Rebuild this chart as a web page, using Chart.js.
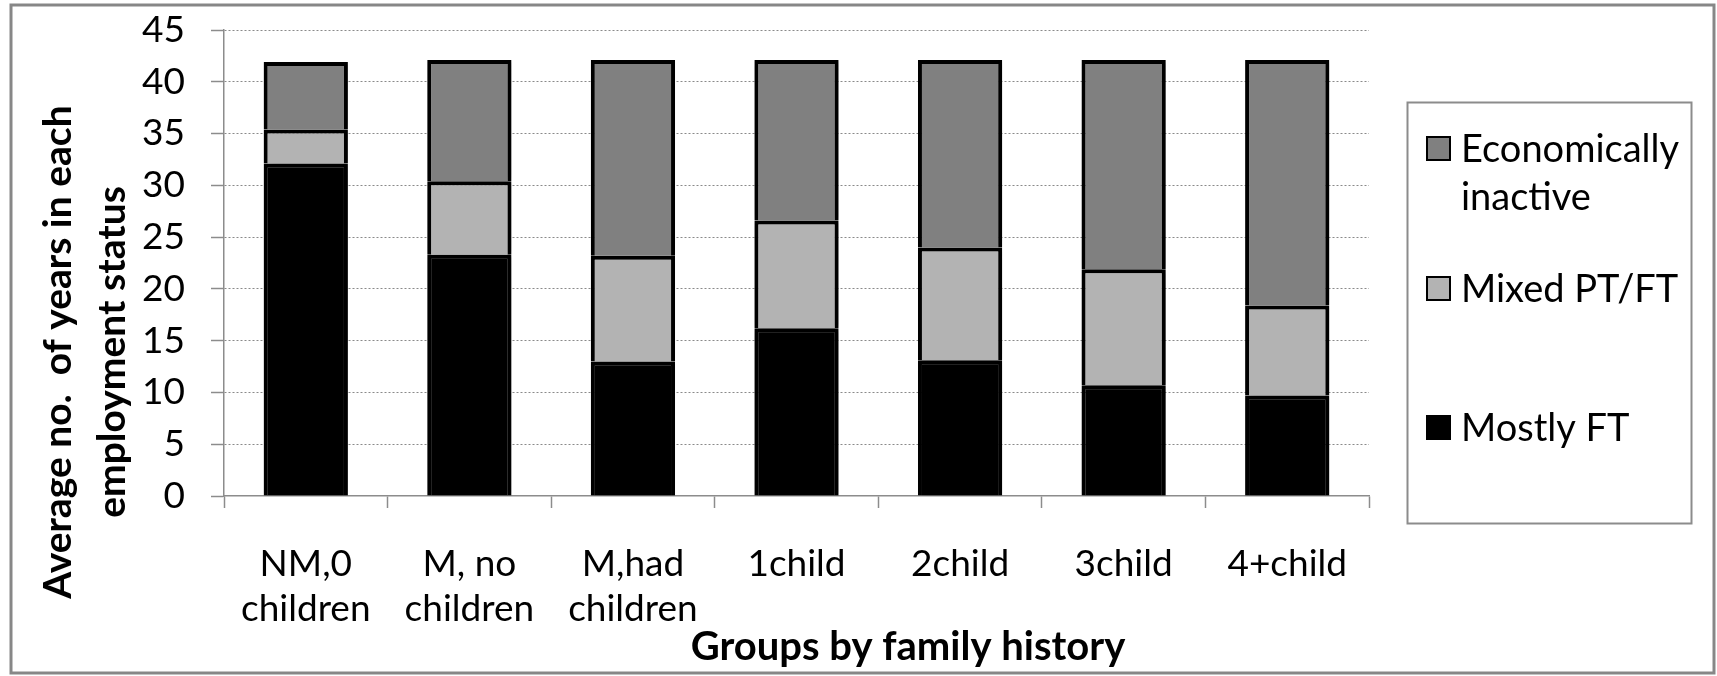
<!DOCTYPE html>
<html>
<head>
<meta charset="utf-8">
<script src="https://cdn.jsdelivr.net/npm/chart.js@4.4.0/dist/chart.umd.min.js"></script>
<style>
  html, body { margin: 0; padding: 0; background: #ffffff; }
  #wrap { width: 1717px; height: 676px; }
</style>
</head>
<body>
<div id="wrap"><canvas id="chart" width="1717" height="676"></canvas></div>
<script>
// ---- data ----
const categories = [
  ["NM,0", "children"],
  ["M, no", "children"],
  ["M,had", "children"],
  "1child", "2child", "3child", "4+child"
];
const mostlyFT   = [32.1, 23.3, 13.0, 16.2, 13.1, 10.7, 9.7];
const mixedPTFT  = [3.3, 7.1, 10.2, 10.4, 10.9, 11.2, 8.7];
const econInactive = [6.5, 11.7, 18.9, 15.5, 18.1, 20.2, 23.7];
const seriesLabels = ["Mostly FT", "Mixed PT/FT", "Economically inactive"];
const yTickValues = [0, 5, 10, 15, 20, 25, 30, 35, 40, 45];
const xTitle = "Groups by family history";
const yTitleLines = ["Average no.  of years in each", "employment status"];

// ---- styling ----
const FONT = "Lato, 'Open Sans', sans-serif";
const AXIS_GREY = "#8c8c8c";
const seriesColors = ["#000000", "#b3b3b3", "#808080"];

// white page with grey outer frame
const framePlugin = {
  id: "frame",
  beforeDraw(chart) {
    const ctx = chart.ctx;
    ctx.save();
    ctx.fillStyle = "#ffffff";
    ctx.fillRect(0, 0, chart.width, chart.height);
    ctx.strokeStyle = "#878787";
    ctx.lineWidth = 3;
    ctx.strokeRect(11, 5, 1703, 668);
    ctx.restore();
  }
};

// soft drop shadow under the bars
const shadowPlugin = {
  id: "barShadow",
  beforeDatasetsDraw(chart) {
    const ctx = chart.ctx;
    ctx.save();
    ctx.shadowColor = "rgba(0,0,0,0.4)";
    ctx.shadowBlur = 7;
    ctx.shadowOffsetX = 2;
    ctx.shadowOffsetY = 1;
  },
  afterDatasetsDraw(chart) {
    chart.ctx.restore();
  }
};

// axis titles
const titlesPlugin = {
  id: "axisTitles",
  afterDraw(chart) {
    const ctx = chart.ctx;
    ctx.save();
    ctx.fillStyle = "#000000";
    ctx.font = "bold 40px " + FONT;
    ctx.textAlign = "center";
    ctx.textBaseline = "alphabetic";
    ctx.fillText(xTitle, 908, 660);

    ctx.font = "bold 39px " + FONT;
    ctx.textBaseline = "middle";
    const lineX = [58, 112];
    yTitleLines.forEach((line, i) => {
      ctx.save();
      ctx.translate(lineX[i], 352);
      ctx.rotate(-Math.PI / 2);
      ctx.fillText(line, 0, 0);
      ctx.restore();
    });
    ctx.restore();
  }
};

// boxed legend on the right, top series first
const legendPlugin = {
  id: "boxLegend",
  afterDraw(chart) {
    const ctx = chart.ctx;
    const box = { x: 1407.5, y: 102.5, w: 284, h: 421 };
    const itemTops = [136, 276, 415];
    const sq = 25;
    ctx.save();
    ctx.strokeStyle = AXIS_GREY;
    ctx.lineWidth = 2;
    ctx.strokeRect(box.x, box.y, box.w, box.h);

    ctx.font = "38px " + FONT;
    ctx.textAlign = "left";
    ctx.textBaseline = "alphabetic";
    const textX = 1461;
    const maxW = box.x + box.w - textX - 2;
    const ds = chart.data.datasets.slice().reverse();
    ds.forEach((d, i) => {
      const top = itemTops[i];
      ctx.fillStyle = d.backgroundColor;
      ctx.fillRect(1426, top, sq, sq);
      ctx.strokeStyle = "#000000";
      ctx.lineWidth = 2;
      ctx.strokeRect(1427, top + 1, sq - 2, sq - 2);
      // wrap the label to the box width
      const words = d.label.split(" ");
      const lines = [];
      let cur = "";
      words.forEach(w => {
        const test = cur ? cur + " " + w : w;
        if (cur && ctx.measureText(test).width > maxW) { lines.push(cur); cur = w; }
        else cur = test;
      });
      if (cur) lines.push(cur);
      ctx.fillStyle = "#000000";
      lines.forEach((ln, j) => ctx.fillText(ln, textX, top + sq + 1 + j * 48));
    });
    ctx.restore();
  }
};

const datasets = [mostlyFT, mixedPTFT, econInactive].map((vals, i) => ({
  label: seriesLabels[i],
  data: vals,
  backgroundColor: seriesColors[i],
  borderColor: "#000000",
  borderWidth: 4,
  categoryPercentage: 1.0,
  barPercentage: 0.515
}));

new Chart(document.getElementById("chart"), {
  type: "bar",
  data: { labels: categories, datasets },
  plugins: [framePlugin, shadowPlugin, titlesPlugin, legendPlugin],
  options: {
    responsive: false,
    animation: false,
    devicePixelRatio: 1,
    layout: { padding: { left: 0, top: 30, right: 348, bottom: 0 } },
    plugins: { legend: { display: false }, tooltip: { enabled: false } },
    scales: {
      x: {
        stacked: true,
        afterFit(scale) { scale.height = 180; },
        grid: {
          drawOnChartArea: false,
          drawTicks: true,
          tickLength: 12,
          tickColor: AXIS_GREY,
          tickWidth: 1.5,
          offset: true
        },
        border: { display: true, color: AXIS_GREY, width: 1.5 },
        ticks: {
          color: "#000000",
          padding: 34,
          maxRotation: 0,
          autoSkip: false,
          font: { family: FONT, size: 37, lineHeight: 1.2 }
        }
      },
      y: {
        stacked: true,
        min: 0,
        max: 45,
        afterFit(scale) {
          scale.width = 224;
          // the "45" label may overhang the plot top; the outer padding covers it
          scale.paddingTop = 0;
          scale.paddingBottom = 0;
        },
        afterBuildTicks(scale) { scale.ticks = yTickValues.map(v => ({ value: v })); },
        grid: {
          color: c => (c.tick && c.tick.value === 0) ? "rgba(0,0,0,0)" : "#8a8a8a",
          lineWidth: 1,
          drawTicks: true,
          tickLength: 13,
          tickColor: AXIS_GREY,
          tickWidth: 1.5,
          tickBorderDash: []
        },
        border: { display: true, color: AXIS_GREY, width: 1.5, dash: [2, 2] },
        ticks: {
          color: "#000000",
          padding: 26,
          font: { family: FONT, size: 37 }
        }
      }
    }
  }
});
</script>
</body>
</html>
